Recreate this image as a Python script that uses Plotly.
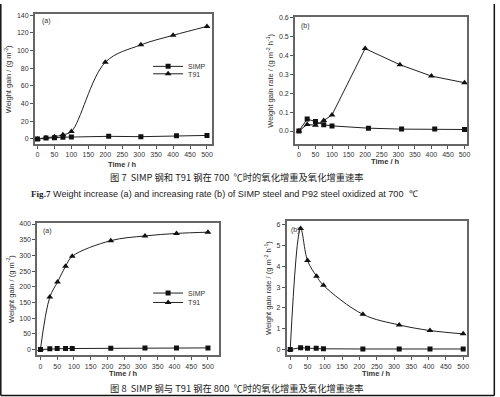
import plotly.graph_objects as go

# ---- Fig.7 (700 C) ----
t7a_simp = [0, 25, 50, 75, 100, 210, 305, 410, 500]
w7a_simp = [0, 1.1, 1.5, 2.0, 2.2, 3.0, 2.6, 3.7, 4.0]
t7a_t91 = [0, 25, 50, 75, 100, 200, 305, 400, 500]
w7a_t91 = [0, 1.5, 2.5, 4.8, 8.5, 86.8, 106.5, 117.3, 127.4]

t7b_simp = [0, 25, 50, 75, 100, 210, 310, 410, 500]
r7b_simp = [0, 0.063, 0.05, 0.033, 0.027, 0.015, 0.01, 0.01, 0.008]
t7b_t91 = [0, 25, 50, 75, 100, 200, 305, 400, 500]
r7b_t91 = [0, 0.035, 0.03, 0.055, 0.085, 0.435, 0.35, 0.29, 0.255]

# ---- Fig.8 (800 C) ----
t8a_simp = [0, 28, 50, 75, 95, 210, 312, 406, 500]
w8a_simp = [0, 2, 3, 3, 3, 4, 5, 5, 5]
t8a_t91 = [0, 28, 51, 75, 95, 210, 312, 406, 500]
w8a_t91 = [0, 167, 215, 265, 297, 347, 362, 370, 374]

t8b_simp = [0, 30, 50, 75, 96, 210, 315, 404, 500]
r8b_simp = [0, 0.08, 0.06, 0.06, 0.03, 0.02, 0.02, 0.02, 0.02]
t8b_t91 = [0, 30, 50, 76, 96, 210, 315, 404, 500]
r8b_t91 = [0, 5.83, 4.28, 3.53, 3.09, 1.69, 1.18, 0.91, 0.75]

x_ticks = list(range(0, 501, 50))

LINE = "#222222"
TXT = "#333333"
FONT = "Liberation Sans"

fig = go.Figure()


def add(x, y, sym, name, xa, ya, spline, legend=None, show=False):
    fig.add_trace(go.Scatter(
        x=x, y=y, mode="lines+markers", name=name,
        xaxis=xa, yaxis=ya,
        line=dict(color=LINE, width=1, shape="spline" if spline else "linear", smoothing=1.0),
        marker=dict(symbol=sym, size=5 if sym == "square" else 6, color="#111111"),
        showlegend=show, legend=legend,
    ))


add(t7a_simp, w7a_simp, "square", "SIMP", "x", "y", False, "legend", True)
add(t7a_t91, w7a_t91, "triangle-up", "T91", "x", "y", True, "legend2", True)
add(t7b_simp, r7b_simp, "square", "SIMP", "x2", "y2", False)
add(t7b_t91, r7b_t91, "triangle-up", "T91", "x2", "y2", False)
add(t8a_simp, w8a_simp, "square", "SIMP", "x3", "y3", False, "legend3", True)
add(t8a_t91, w8a_t91, "triangle-up", "T91", "x3", "y3", True, "legend4", True)
add(t8b_simp, r8b_simp, "square", "SIMP", "x4", "y4", False)
add(t8b_t91, r8b_t91, "triangle-up", "T91", "x4", "y4", True)

W, H = 500, 397


def px(v):
    return v / W


def py(v):
    return 1 - v / H


def xaxis(dom, rng):
    return dict(domain=dom, range=rng, tickvals=x_ticks, ticks="outside", ticklen=3,
                tickcolor="#555", showline=True, linecolor="#666", linewidth=1.5, mirror=True,
                showgrid=False, zeroline=False, tickfont=dict(size=7, color=TXT, family=FONT))


def yaxis(dom, rng, dtick, title, fmt=None):
    d = dict(domain=dom, range=rng, dtick=dtick, tick0=0, ticks="outside", ticklen=3,
             tickcolor="#555", showline=True, linecolor="#666", linewidth=1.5, mirror=True,
             showgrid=False, zeroline=False, tickfont=dict(size=7, color=TXT, family=FONT),
             title=dict(text=title, font=dict(size=7.5, color=TXT, family=FONT), standoff=4))
    if fmt:
        d["tickformat"] = fmt
    return d


layout = dict(
    width=W, height=H, margin=dict(l=0, r=0, t=0, b=0),
    paper_bgcolor="white", plot_bgcolor="white",
    xaxis=dict(xaxis([px(35), px(213)], [-8, 514]), anchor="y"),
    yaxis=dict(yaxis([py(141.7), py(10.5)], [-6, 141], 20, "Weight gain / (g m<sup>-2</sup>)"), anchor="x"),
    xaxis2=dict(xaxis([px(296.7), px(470)], [-12, 508]), anchor="y2"),
    yaxis2=dict(yaxis([py(141.7), py(13.5)], [-0.07, 0.6], 0.1, "Weight gain rate / (g m<sup>-2</sup> h<sup>-1</sup>)", ".1f"), anchor="x2"),
    xaxis3=dict(xaxis([px(37.3), px(220)], [-10, 532]), anchor="y3"),
    yaxis3=dict(yaxis([py(355), py(221)], [-19, 404], 50, "Weight gain / (g m<sup>-2</sup>)"), anchor="x3"),
    xaxis4=dict(xaxis([px(288.3), px(470)], [-10.6, 511.5]), anchor="y4"),
    yaxis4=dict(yaxis([py(355), py(219)], [-0.29, 6.2], 1, "Weight gain rate / (g m<sup>-2</sup> h<sup>-1</sup>)"), anchor="x4"),
)

leg_common = dict(bgcolor="rgba(0,0,0,0)", font=dict(size=7, color=TXT, family=FONT),
                  itemwidth=30, xanchor="left", yanchor="middle", borderwidth=0,
                  tracegroupgap=0)
layout["legend"] = dict(leg_common, x=px(149), y=py(63))
layout["legend2"] = dict(leg_common, x=px(149), y=py(70.5))
layout["legend3"] = dict(leg_common, x=px(149), y=py(292))
layout["legend4"] = dict(leg_common, x=px(149), y=py(301.5))

fig.update_layout(**layout)

ann = []


def note(text, x, y, size, xa="paper", ya="paper", xanchor="center", family=FONT, color="#222"):
    ann.append(dict(text=text, x=x, y=y, xref=xa, yref=ya, showarrow=False,
                    xanchor=xanchor, yanchor="middle", font=dict(size=size, family=family, color=color)))


note("(a)", px(40), py(17), 7, xanchor="left", color=TXT)
note("(b)", px(301), py(22), 7, xanchor="left", color=TXT)
note("(a)", px(41), py(229), 7, xanchor="left", color=TXT)
note("(b)", px(291), py(228), 7, xanchor="left", color=TXT)

for tx, ty in [(123, 162), (388, 159), (124, 373), (379, 373)]:
    note("<b>Time / h</b>", px(tx), py(ty), 7.5, color=TXT)

CJK = "Noto Sans CJK SC"
note("图 7  SIMP 钢和 T91 钢在 700  ℃时的氧化增重及氧化增重速率", px(238), py(175), 9.3, family=CJK)
note("<span style='font-family:Liberation Serif'><b>Fig.7</b></span> Weight increase (a) and increasing rate (b) of SIMP steel and P92 steel oxidized at 700  ℃",
     px(226), py(192), 9.1, family=FONT)
note("图 8  SIMP 钢与 T91 钢在 800  ℃时的氧化增重及氧化增重速率", px(238), py(388), 9.3, family=CJK)

fig.update_layout(annotations=ann)

# outer border (left, right, bottom)
fig.update_layout(shapes=[
    dict(type="line", xref="paper", yref="paper", x0=px(0.8), x1=px(0.8), y0=py(0), y1=py(395.5),
         line=dict(color="#111", width=1.5)),
    dict(type="line", xref="paper", yref="paper", x0=px(497.3), x1=px(497.3), y0=py(0), y1=py(395.5),
         line=dict(color="#111", width=1.5)),
    dict(type="line", xref="paper", yref="paper", x0=px(0.8), x1=px(497.3), y0=py(395.5), y1=py(395.5),
         line=dict(color="#111", width=1.5)),
])

fig.write_html("out.html", config={"displayModeBar": False},
               post_script="document.body.style.margin='0';document.body.style.overflow='hidden';")
